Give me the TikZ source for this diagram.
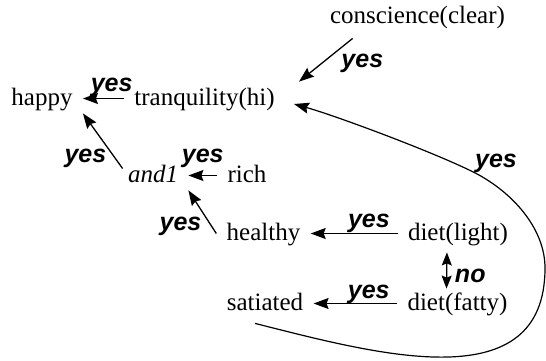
\documentclass[tikz,border=0pt]{standalone}
\usepackage{fontspec}
\setmainfont{Liberation Serif}
\newfontfamily\labelfont{Liberation Sans}
\usetikzlibrary{arrows.meta}

\begin{document}
\begin{tikzpicture}[
    x=0.5pt, y=-0.5pt,
    font=\fontsize{12.5}{15}\selectfont,
% Node and edge styles
    fact/.style={inner xsep=5pt, inner ysep=1.5pt, text height=9pt, text depth=2.5pt},
    rule/.style={-{Stealth[length=7.5pt,width=5.5pt,inset=1pt]}, line width=0.65pt},
    twoway/.style={{Stealth[length=6.5pt,width=5pt,inset=1pt]}-{Stealth[length=6.5pt,width=5pt,inset=1pt]}, line width=0.65pt},
    lbl/.style={font=\fontsize{12.5}{15}\selectfont\labelfont\bfseries\itshape, anchor=base, inner sep=0pt}
]
\useasboundingbox (0,0) rectangle (546,360);

% 1. Facts
\node[fact] (consc) at (417.5,16.5) {conscience(clear)};
\node[fact] (happy) at (42,98.5) {happy};
\node[fact] (tranq) at (204.5,98.5) {tranquility(hi)};
\node[fact] (and1) at (153,175.5) {\textit{and1}};
\node[fact] (rich) at (247,175.5) {rich};
\node[fact] (healthy) at (263.5,233.5) {healthy};
\node[fact] (light) at (458,233.5) {diet(light)};
\node[fact] (sat) at (265,303.5) {satiated};
\node[fact] (fatty) at (457.5,303.5) {diet(fatty)};

% 2. Rules
\draw[rule] (tranq.west) -- (happy.east) node[lbl, pos=0.3, yshift=3.5pt] {yes};
\draw[rule] ([xshift=16.5pt,yshift=-3.5pt]consc.south west) -- ([xshift=7pt,yshift=1pt]tranq.north east)
        node[lbl, pos=0.5, xshift=18.25pt, yshift=-3.5pt] {yes};
\draw[rule] ([xshift=2.5pt,yshift=3.5pt]and1.west) -- (happy.south east)
        node[lbl, pos=0.27, xshift=-13.25pt, yshift=-4.25pt] {yes};
\draw[rule] (rich.west) -- (and1.east) node[lbl, pos=0.5, yshift=6.75pt] {yes};
\draw[rule] (healthy.west) -- (and1.south east)
        node[lbl, pos=0.3, xshift=-13.7pt, yshift=-4.8pt] {yes};
\draw[rule] (light.west) -- (healthy.east) node[lbl, pos=0.33, yshift=3.25pt] {yes};
\draw[rule] (fatty.west) -- (sat.east) node[lbl, pos=0.34, yshift=2.75pt] {yes};

% 3. Exclusion between the two diets
\draw[twoway, shorten <=2pt] ([xshift=-5.5pt]light.south) -- ([xshift=-5.5pt]fatty.north)
        node[lbl, pos=0.5, xshift=11.75pt, yshift=-6.75pt] {no};

% 4. Long loop back
\draw[rule, line width=0.6pt] ([xshift=-5pt,yshift=-2.5pt]sat.south)
        .. controls (380,355) and (545,400) .. (545,268)
        .. controls (545,230) and (515,195) .. (479,175) node[lbl, xshift=8.5pt, yshift=4pt] {yes}
        .. controls (446,157) and (340,117) .. ([xshift=4.5pt,yshift=-2.75pt]tranq.east);

\end{tikzpicture}
\end{document}
